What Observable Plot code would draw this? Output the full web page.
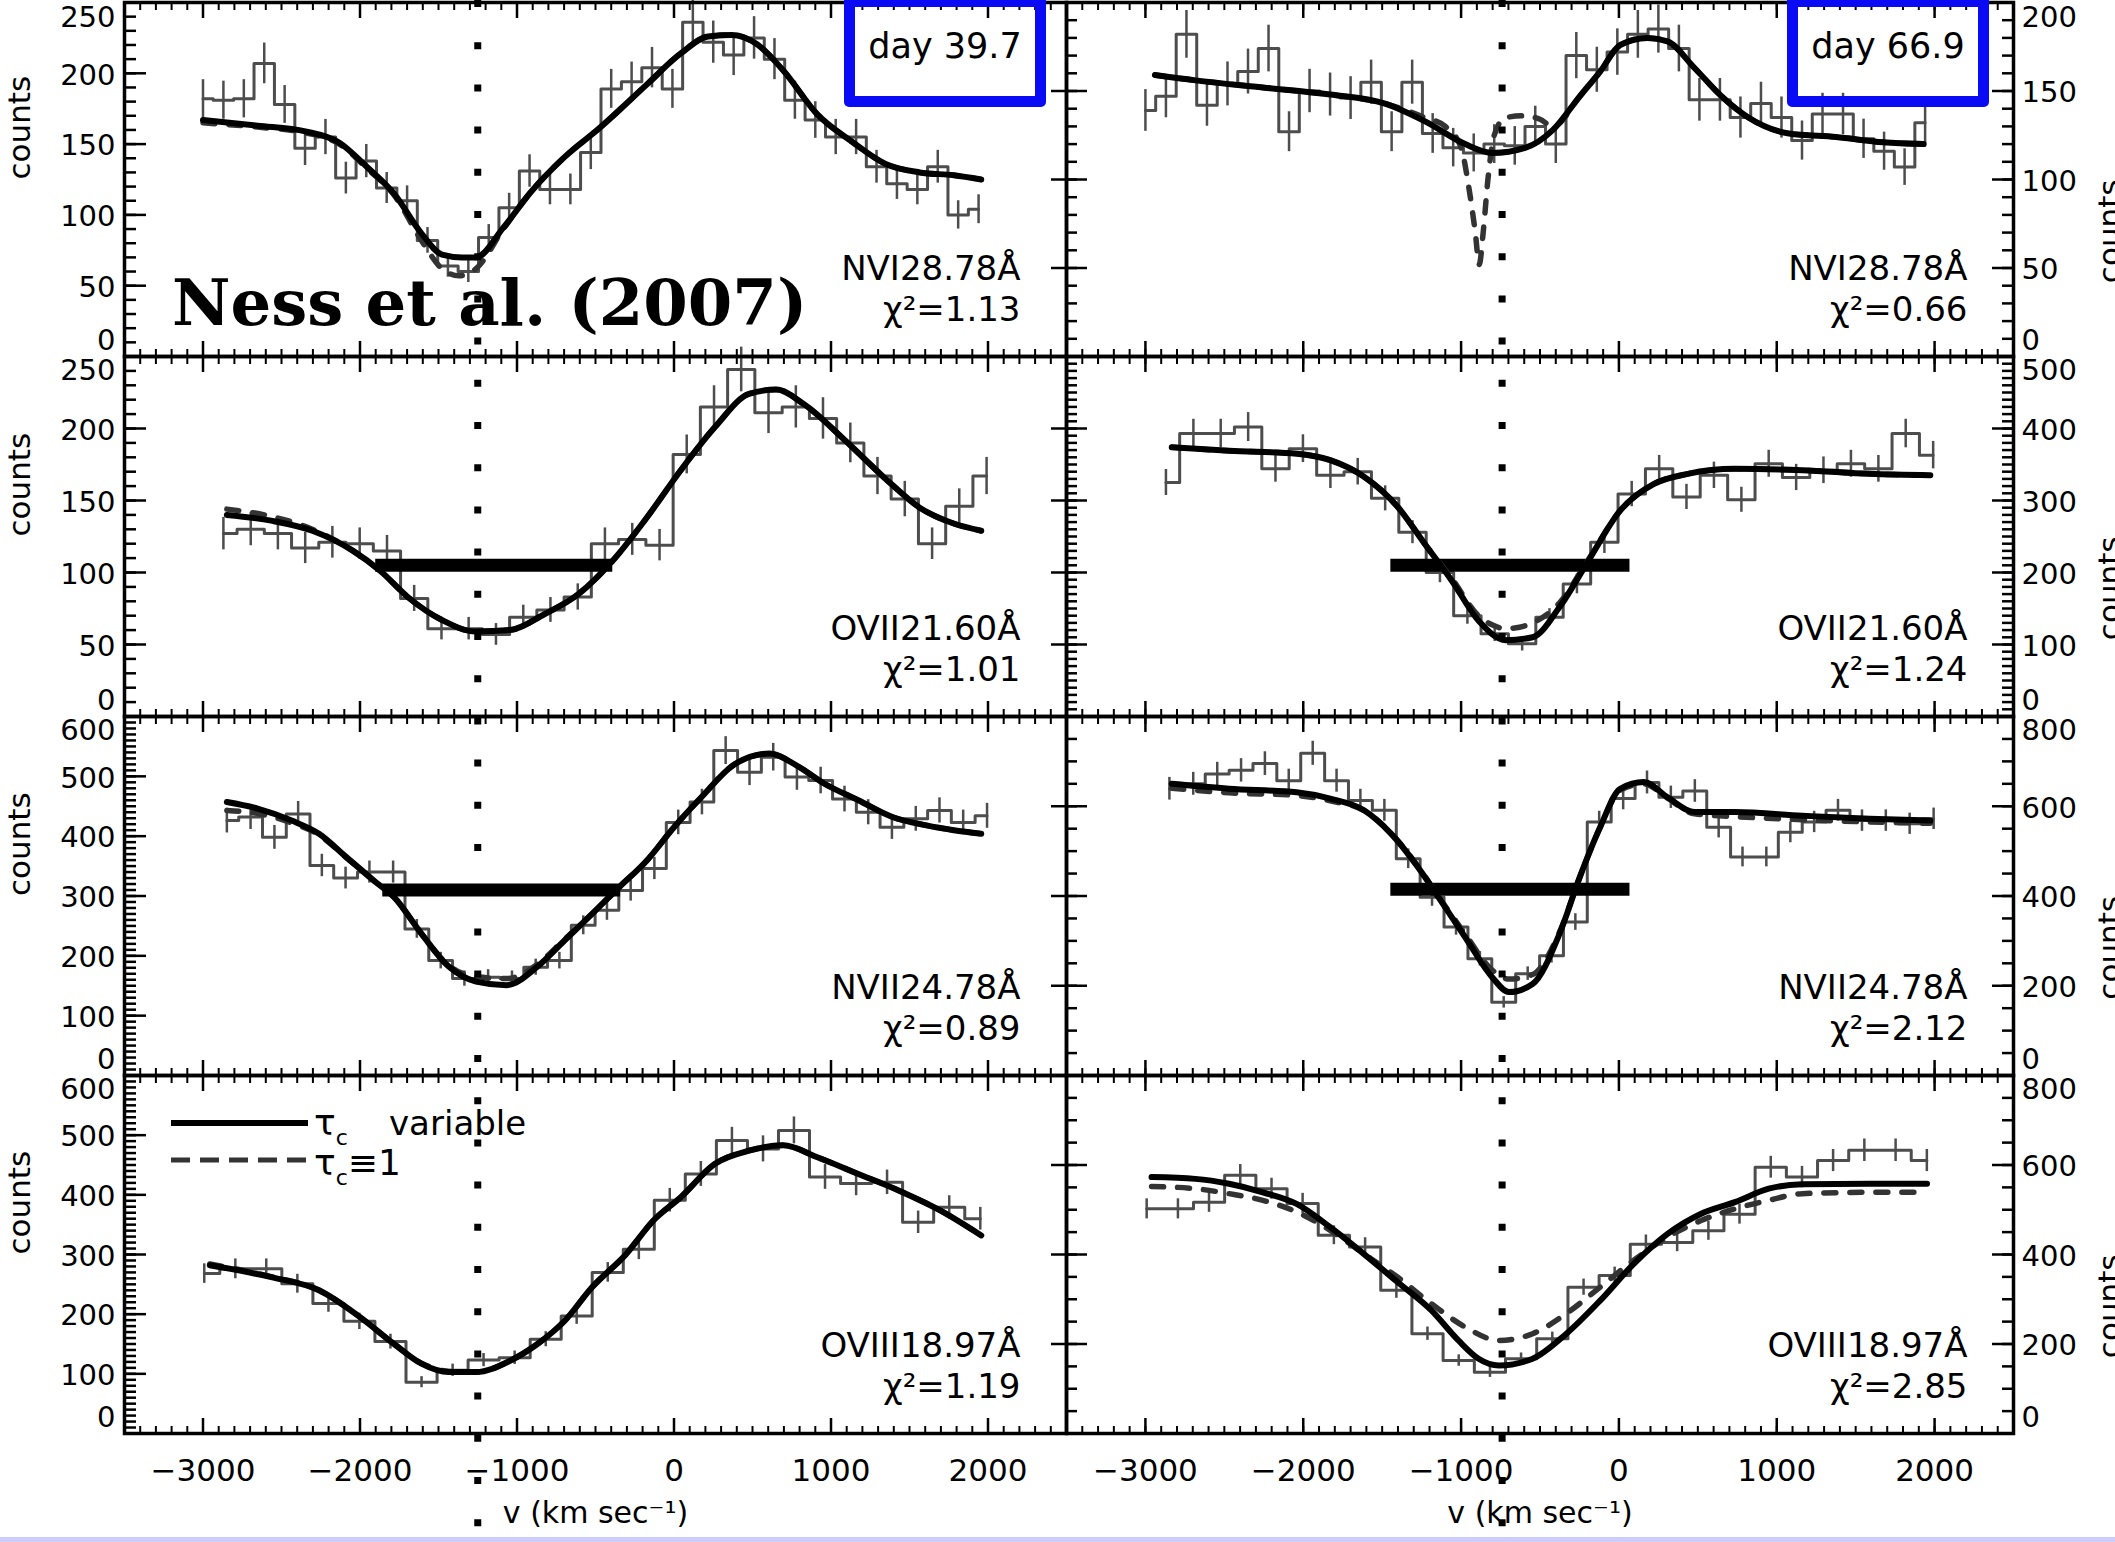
<!DOCTYPE html>
<html>
<head>
<meta charset="utf-8">
<script src="https://cdn.jsdelivr.net/npm/d3@7"></script>
<script src="https://cdn.jsdelivr.net/npm/@observablehq/plot@0.6"></script>
<style>
html, body { margin: 0; padding: 0; background: #fff; overflow: hidden; }
#fig { position: relative; width: 2115px; height: 1542px; overflow: hidden; background: #fff; font-family: "DejaVu Sans", sans-serif; }
#fig > svg { position: absolute; overflow: visible; }
.ov { position: absolute; white-space: nowrap; color: #000; }
</style>
</head>
<body>
<div id="fig"></div>
<script>
// ---------------- DATA ----------------
const xTickLabels = [-3000, -2000, -1000, 0, 1000, 2000];
const xDomain = [-3500, 2500];
const vRefDay40 = -1250;   // vertical dotted reference, left column
const vRefDay67 = -740;    // vertical dotted reference, right column

// bin centres (km/s) per line
const binsNVI = [-3000,-2870,-2740,-2610,-2480,-2350,-2220,-2090,-1960,-1830,-1700,-1570,-1440,-1310,-1180,-1050,-920,-790,-660,-530,-400,-270,-140,-10,120,250,380,510,640,770,900,1030,1160,1290,1420,1550,1680,1810,1940];
const binsOVII = [-2870,-2696,-2523,-2349,-2176,-2002,-1828,-1655,-1481,-1308,-1134,-960,-787,-613,-440,-266,-92,81,255,428,602,776,949,1123,1296,1470,1644,1817,1991];
const binsNVII = [-2848,-2697,-2545,-2394,-2243,-2092,-1940,-1789,-1638,-1486,-1335,-1184,-1032,-881,-730,-578,-427,-276,-125,27,178,329,481,632,783,934,1086,1237,1388,1540,1691,1842,1994];
const binsOVIII = [-2992,-2794,-2597,-2399,-2201,-2004,-1806,-1608,-1410,-1213,-1015,-817,-620,-422,-224,-27,171,369,567,764,962,1160,1357,1555,1753,1951];

// observed counts
const nvi40Counts = [182,181,182,207,178,147,155,126,138,119,110,82,64,60,84,105,131,118,118,144,189,194,204,189,236,222,213,225,210,181,167,155,155,134,122,118,134,100,104];
const nvi67Counts = [139,147,182,142,154,161,174,127,150,148,146,155,127,155,126,118,115,120,119,130,120,170,162,172,182,185,174,145,145,135,143,135,122,137,137,123,116,107,132];
const ovii40Counts = [127,130,127,117,121,120,115,82,61,61,57,69,74,83,120,123,119,182,215,241,211,215,207,190,167,151,120,146,167];
const ovii67Counts = [325,393,393,402,344,372,335,340,303,256,200,140,115,101,138,184,242,309,344,305,335,301,351,332,342,351,344,393,363];
const nvii40Counts = [426,432,398,437,351,330,340,340,245,192,162,164,162,181,192,251,276,309,346,423,457,543,507,532,499,493,462,440,415,429,443,423,434];
const nvii67Counts = [639,650,672,680,695,657,718,657,613,591,483,397,331,260,163,227,267,342,565,617,653,620,634,553,487,487,542,565,591,568,568,561,572];
const oviii40Counts = [268,276,276,251,218,188,154,86,106,123,127,158,197,270,309,391,435,491,477,508,430,419,421,354,379,360];
const oviii67Counts = [502,502,517,577,547,514,443,417,320,223,163,137,167,212,327,353,423,427,453,490,595,573,610,633,633,610];

// model: tau_c variable (solid)
const nvi40SolidV = [-3000,-2652,-2348,-2131,-1957,-1783,-1609,-1478,-1350,-1261,-1087,-913,-696,-478,-174,43,217,369,522,696,913,1130,1348,1565,1782,1957];
const nvi40SolidC = [167,163,159,151,134,115,87,72,70,70,91,116,141,161,192,214,226,227,221,202,171,152,136,130,128,125];
const nvi67SolidV = [-2940,-2683,-2256,-1829,-1487,-1231,-974,-803,-590,-418,-248,-119,8,180,308,479,650,820,1077,1376,1675,1931];
const nvi67SolidC = [159,156,152,148,143,133,120,115,118,128,147,161,176,180,178,163,147,135,126,124,121,120];
const ovii40SolidV = [-2848,-2566,-2304,-2044,-1870,-1696,-1478,-1261,-1044,-826,-609,-392,-174,43,261,478,652,826,1087,1348,1565,1782,1957];
const ovii40SolidC = [140,136,129,115,101,83,67,59,60,71,85,108,138,171,201,224,227,217,192,165,145,134,129];
const ovii67SolidV = [-2833,-2470,-2042,-1829,-1615,-1401,-1231,-1060,-889,-718,-547,-376,-205,8,222,436,735,1162,1589,1973];
const ovii67SolidC = [374,369,365,356,333,291,240,189,133,106,110,152,212,286,323,337,344,342,337,335];
const nvii40SolidV = [-2848,-2652,-2435,-2261,-2087,-1913,-1783,-1609,-1435,-1261,-1066,-870,-696,-522,-348,-174,0,174,391,608,782,956,1174,1391,1608,1782,1957];
const nvii40SolidC = [457,446,426,404,365,326,298,237,182,157,151,182,226,270,315,359,415,465,521,538,518,488,460,432,418,410,404];
const nvii67SolidV = [-2833,-2470,-2042,-1829,-1615,-1444,-1273,-1145,-974,-803,-697,-547,-376,-248,-119,8,158,308,479,735,1162,1589,1973];
const nvii67SolidC = [650,639,631,617,591,539,464,398,308,219,186,204,316,442,553,639,654,620,587,587,579,572,568];
const oviii40SolidV = [-2957,-2566,-2261,-2000,-1783,-1609,-1435,-1261,-1044,-870,-696,-522,-304,-131,43,261,478,696,913,1174,1434,1695,1957];
const oviii40SolidC = [282,262,240,195,150,117,103,103,122,150,189,245,301,357,396,452,474,483,463,435,407,374,332];
const oviii67SolidV = [-2961,-2683,-2470,-2256,-2042,-1829,-1615,-1401,-1188,-1017,-889,-761,-547,-333,-119,94,308,521,735,949,1162,1589,1952];
const oviii67SolidC = [573,569,558,539,513,461,401,338,275,208,167,152,167,223,297,379,446,491,517,547,557,558,558];

// model: tau_c = 1 (dashed)
const nvi40DashV = [-3000,-2652,-2348,-2131,-1957,-1783,-1609,-1478,-1370,-1261,-1087,-913,-696,-478,-174,43,217,369,522,696,913,1130,1348,1565,1782,1957];
const nvi40DashC = [165,162,158,150,133,114,82,62,57,62,90,116,141,161,192,214,226,227,221,202,171,152,136,130,128,125];
const nvi67DashV = [-2940,-2683,-2256,-1829,-1487,-1231,-1100,-1000,-950,-910,-885,-860,-830,-790,-718,-600,-500,-418,-248,-119,8,180,308,479,650,820,1077,1376,1675,1931];
const nvi67DashC = [159,156,152,148,143,135,130,118,95,70,52,70,100,125,135,136,134,130,147,161,176,180,178,163,147,135,126,124,121,120];
const ovii40DashV = [-2848,-2566,-2304,-2044,-1870,-1696,-1478,-1261,-1044,-826,-609,-392,-174,43,261,478,652,826,1087,1348,1565,1782,1957];
const ovii40DashC = [144,139,130,115,101,83,67,59,60,71,85,108,138,171,201,224,227,217,192,165,145,134,129];
const ovii67DashV = [-2833,-2470,-2042,-1829,-1615,-1401,-1231,-1060,-889,-800,-718,-630,-547,-376,-205,8,222,436,735,1162,1589,1973];
const ovii67DashC = [374,369,365,356,333,291,240,192,140,127,122,124,130,158,214,286,323,337,344,342,337,335];
const nvii40DashV = [-2848,-2652,-2435,-2261,-2087,-1913,-1783,-1609,-1435,-1261,-1066,-870,-696,-522,-348,-174,0,174,391,608,782,956,1174,1391,1608,1782,1957];
const nvii40DashC = [443,438,422,402,364,326,298,237,184,165,162,186,228,270,315,359,415,465,521,538,518,488,460,432,418,410,404];
const nvii67DashV = [-2833,-2470,-2042,-1829,-1615,-1444,-1273,-1145,-974,-803,-697,-547,-376,-248,-119,8,158,308,479,735,1162,1589,1973];
const nvii67DashC = [640,630,624,612,590,540,466,400,315,235,215,225,320,442,553,636,650,618,583,577,570,565,562];
const oviii40DashV = oviii40SolidV;
const oviii40DashC = [284,263,240,195,150,118,104,103,122,150,189,245,301,357,396,452,474,483,463,435,407,374,332];
const oviii67DashV = [-2961,-2683,-2470,-2256,-2042,-1829,-1615,-1401,-1188,-974,-761,-547,-333,-119,94,308,521,735,949,1162,1589,1952];
const oviii67DashC = [552,547,536,521,495,454,401,349,290,238,208,223,268,327,387,439,476,502,521,536,539,539];

// thick horizontal bars (velocity range, counts level)
const barOVII40 = {v1: -1900, v2: -390, c: 105};
const barOVII67 = {v1: -1445, v2: 70, c: 210};
const barNVII40 = {v1: -1855, v2: -340, c: 310};
const barNVII67 = {v1: -1445, v2: 70, c: 415};

// y tick labels per panel
const yTicks250 = [0, 50, 100, 150, 200, 250];
const yTicks200 = [0, 50, 100, 150, 200];
const yTicks500 = [0, 100, 200, 300, 400, 500];
const yTicks600 = [0, 100, 200, 300, 400, 500, 600];
const yTicks800 = [0, 200, 400, 600, 800];

const lineLabels = ["NVI28.78Å", "NVI28.78Å", "OVII21.60Å", "OVII21.60Å", "NVII24.78Å", "NVII24.78Å", "OVIII18.97Å", "OVIII18.97Å"];
const chiSquared = ["1.13", "0.66", "1.01", "1.24", "0.89", "2.12", "1.19", "2.85"];
const dayLabels = ["day 39.7", "day 66.9"];
const yLabel = "counts";
const xLabel = "v (km sec⁻¹)";

// ---------------- LAYOUT ----------------
const FIG_W = 2115, FIG_H = 1542;
const colFrames = [{left: 124, width: 942}, {left: 1066, width: 947}];
const rowFrames = [{top: 2, bottom: 356}, {top: 356, bottom: 716}, {top: 716, bottom: 1075}, {top: 1075, bottom: 1433}];
const FS = 29;

const zip = (a, b) => a.map((v, i) => ({v, c: b[i]}));
const fmtX = d => d < 0 ? "\u2212" + (-d) : String(d);

const panels = [
  {row: 0, col: 0, hist: zip(binsNVI, nvi40Counts), solid: zip(nvi40SolidV, nvi40SolidC), dash: zip(nvi40DashV, nvi40DashC), yTicks: yTicks250, minor: 10, bar: null},
  {row: 0, col: 1, hist: zip(binsNVI, nvi67Counts), solid: zip(nvi67SolidV, nvi67SolidC), dash: zip(nvi67DashV, nvi67DashC), yTicks: yTicks200, minor: 10, bar: null},
  {row: 1, col: 0, hist: zip(binsOVII, ovii40Counts), solid: zip(ovii40SolidV, ovii40SolidC), dash: zip(ovii40DashV, ovii40DashC), yTicks: yTicks250, minor: 10, bar: barOVII40},
  {row: 1, col: 1, hist: zip(binsOVII, ovii67Counts), solid: zip(ovii67SolidV, ovii67SolidC), dash: zip(ovii67DashV, ovii67DashC), yTicks: yTicks500, minor: 10, bar: barOVII67},
  {row: 2, col: 0, hist: zip(binsNVII, nvii40Counts), solid: zip(nvii40SolidV, nvii40SolidC), dash: zip(nvii40DashV, nvii40DashC), yTicks: yTicks600, minor: 10, bar: barNVII40},
  {row: 2, col: 1, hist: zip(binsNVII, nvii67Counts), solid: zip(nvii67SolidV, nvii67SolidC), dash: zip(nvii67DashV, nvii67DashC), yTicks: yTicks800, minor: 50, bar: barNVII67},
  {row: 3, col: 0, hist: zip(binsOVIII, oviii40Counts), solid: zip(oviii40SolidV, oviii40SolidC), dash: zip(oviii40DashV, oviii40DashC), yTicks: yTicks600, minor: 10, bar: null},
  {row: 3, col: 1, hist: zip(binsOVIII, oviii67Counts), solid: zip(oviii67SolidV, oviii67SolidC), dash: zip(oviii67DashV, oviii67DashC), yTicks: yTicks800, minor: 50, bar: null}
];

const fig = document.getElementById("fig");
const blank = () => "";
const xMinor = d3.range(-3500, 2500.5, 100);

panels.forEach((p, idx) => {
  const cf = colFrames[p.col], rf = rowFrames[p.row];
  const isLeft = p.col === 0;
  const mL = isLeft ? cf.left : 0;
  const mR = isLeft ? 0 : FIG_W - (cf.left + cf.width);
  const mT = p.row === 0 ? rf.top : 0;
  const mB = p.row === 3 ? FIG_H - rf.bottom : 0;
  const W = mL + cf.width + mR;
  const H = mT + (rf.bottom - rf.top) + mB;
  const yMax = p.yTicks[p.yTicks.length - 1];
  const yMinor = d3.range(0, yMax + 0.5, p.minor);
  const side = isLeft ? "left" : "right";
  const labelCommon = {tickSize: 0, tickPadding: isLeft ? 9 : 8, fontSize: FS, label: null};

  const marks = [
    Plot.line(p.hist, {x: "v", y: "c", curve: "step", stroke: "#4d4d4d", strokeWidth: 3}),
    Plot.ruleX(p.hist, {x: "v", y1: d => d.c - Math.sqrt(d.c), y2: d => d.c + Math.sqrt(d.c), stroke: "#4d4d4d", strokeWidth: 2.5}),
    p.bar ? Plot.ruleY([p.bar], {x1: "v1", x2: "v2", y: "c", stroke: "#000", strokeWidth: 13}) : null,
    Plot.line(p.dash, {x: "v", y: "c", curve: "monotone-x", stroke: "#333", strokeWidth: 5.5, strokeDasharray: "12 14"}),
    Plot.line(p.solid, {x: "v", y: "c", curve: "monotone-x", stroke: "#000", strokeWidth: 6}),
    Plot.frame({stroke: "#000", strokeWidth: 3.5}),
    // x ticks (inward, top and bottom)
    Plot.axisX({anchor: "top", ticks: xMinor, tickSize: -7, tickFormat: blank, label: null, strokeWidth: 2}),
    Plot.axisX({anchor: "top", ticks: xTickLabels, tickSize: -15, tickFormat: blank, label: null, strokeWidth: 2.5}),
    Plot.axisX({anchor: "bottom", ticks: xMinor, tickSize: -7, tickFormat: blank, label: null, strokeWidth: 2}),
    Plot.axisX({anchor: "bottom", ticks: xTickLabels, tickSize: -15, tickFormat: blank, label: null, strokeWidth: 2.5}),
    // y ticks on labelled side (inward)
    Plot.axisY({anchor: side, ticks: yMinor, tickSize: -12, tickFormat: blank, label: null, strokeWidth: 2.5}),
    Plot.axisY({anchor: side, ticks: p.yTicks, tickSize: -22, tickFormat: blank, label: null, strokeWidth: 2.5}),
    // y tick labels
    Plot.axisY({anchor: side, ticks: p.yTicks.slice(1, -1), dy: 2, ...labelCommon}),
    Plot.axisY({anchor: side, ticks: [yMax], dy: p.row === 0 ? 15 : 14, ...labelCommon}),
    Plot.axisY({anchor: side, ticks: [0], dy: -16, ...labelCommon}),
    // y-axis title
    Plot.text([yLabel], {text: d => d, frameAnchor: side, dx: isLeft ? -104 : 97, rotate: -90, fontSize: 31}),
    // line / chi^2 annotation
    Plot.text([lineLabels[idx] + "\nχ²=" + chiSquared[idx]], {text: d => d, frameAnchor: "bottom-right", textAnchor: "end", lineAnchor: "bottom", dx: -46, dy: -36, fontSize: 34, lineHeight: 1.18})
  ];
  if (!isLeft) {
    marks.push(Plot.axisY({anchor: "left", ticks: yMinor, tickSize: -11, tickFormat: blank, label: null, strokeWidth: 2.5}));
    marks.push(Plot.axisY({anchor: "left", ticks: p.yTicks, tickSize: -21, tickFormat: blank, label: null, strokeWidth: 2.5}));
    marks.push(Plot.axisY({anchor: "left", ticks: p.yTicks, tickSize: 15, tickFormat: blank, label: null, strokeWidth: 2.5}));
  }
  if (p.row === 3) {
    marks.push(Plot.axisX({anchor: "bottom", ticks: xTickLabels, tickSize: 0, tickPadding: 25, fontSize: 31, label: null, tickFormat: fmtX}));
    marks.push(Plot.text([xLabel], {text: d => d, frameAnchor: "bottom", dy: 89, fontSize: 30}));
  }

  const svg = Plot.plot({
    width: W, height: H,
    marginLeft: mL, marginRight: mR, marginTop: mT, marginBottom: mB,
    x: {domain: xDomain},
    y: {domain: [0, yMax]},
    style: {background: "transparent", overflow: "visible", fontFamily: "DejaVu Sans, sans-serif", maxWidth: "none"},
    marks
  });
  svg.style.left = (isLeft ? 0 : cf.left) + "px";
  svg.style.top = (rf.top - mT) + "px";
  fig.appendChild(svg);
});

// vertical dotted reference lines spanning the full figure
[vRefDay40, vRefDay67].forEach((vref, col) => {
  const cf = colFrames[col];
  const isLeft = col === 0;
  const mL = isLeft ? cf.left : 0;
  const mR = isLeft ? 0 : FIG_W - (cf.left + cf.width);
  const svg = Plot.plot({
    width: mL + cf.width + mR, height: FIG_H,
    marginLeft: mL, marginRight: mR, marginTop: 0, marginBottom: 12,
    x: {domain: xDomain, axis: null},
    style: {background: "transparent", overflow: "visible", maxWidth: "none"},
    marks: [Plot.ruleX([vref], {x: d => d, stroke: "#000", strokeWidth: 7, strokeDasharray: "7 35.2"})]
  });
  svg.style.left = (isLeft ? 0 : cf.left) + "px";
  svg.style.top = "0px";
  svg.style.pointerEvents = "none";
  fig.appendChild(svg);
});

// ---------------- ANNOTATIONS (HTML overlays) ----------------
function addDiv(html, css) {
  const d = document.createElement("div");
  d.className = "ov";
  d.innerHTML = html;
  Object.assign(d.style, css);
  fig.appendChild(d);
  return d;
}
// day boxes
[[844, dayLabels[0]], [1787, dayLabels[1]]].forEach(([left, txt]) => {
  addDiv("", {left: left + "px", top: "-4px", width: "202px", height: "111px", border: "11px solid #0a0af5", boxSizing: "border-box", borderRadius: "5px"});
  addDiv(txt, {left: left + "px", top: "29px", width: "202px", textAlign: "center", fontSize: "35px", lineHeight: "35px"});
});
// Ness et al. (2007)
addDiv("Ness et al. (2007)", {left: "172px", top: "271px", fontFamily: "DejaVu Serif, serif", fontWeight: "bold", fontSize: "64px", lineHeight: "64px"});

// legend
const legSvg = document.createElementNS("http://www.w3.org/2000/svg", "svg");
legSvg.setAttribute("width", "160"); legSvg.setAttribute("height", "80");
legSvg.style.cssText = "position:absolute;left:160px;top:1100px;overflow:visible";
legSvg.innerHTML = '<line x1="11" x2="148" y1="23" y2="23" stroke="#000" stroke-width="6"/>' +
  '<line x1="11" x2="148" y1="60" y2="60" stroke="#333" stroke-width="5" stroke-dasharray="19 10"/>';
fig.appendChild(legSvg);
addDiv('τ<span style="font-size:22px;position:relative;top:10px">c</span>', {left: "314px", top: "1106px", fontSize: "36px", lineHeight: "34px"});
addDiv("variable", {left: "389px", top: "1106px", fontSize: "34px", lineHeight: "34px"});
addDiv('τ<span style="font-size:22px;position:relative;top:10px">c</span>≡1', {left: "314px", top: "1146px", fontSize: "36px", lineHeight: "34px"});

// bottom band
addDiv("", {left: "0px", top: "1537px", width: "2115px", height: "5px", background: "#ccccff"});
</script>
</body>
</html>
